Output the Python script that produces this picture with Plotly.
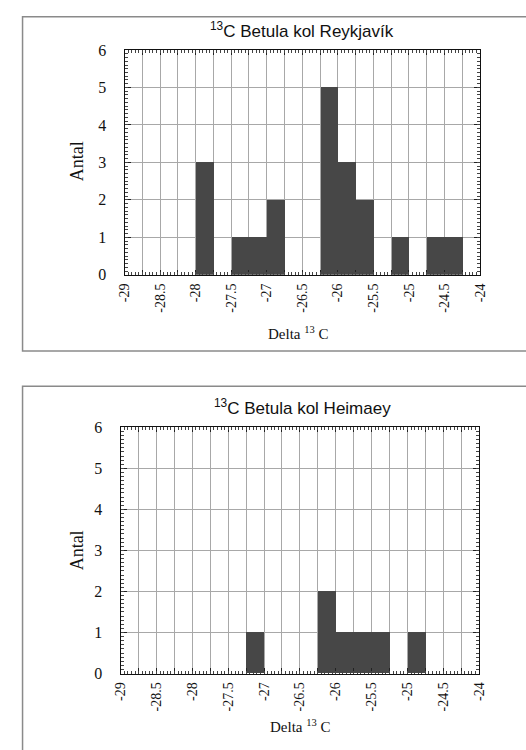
import plotly.graph_objects as go

W, H = 526, 750

# Histogram bins (left edge of each 0.25-wide bin) and counts
bin_width = 0.25
reyk_bin_start = [-28.0, -27.5, -27.25, -27.0, -26.25, -26.0, -25.75, -25.25, -24.75, -24.5]
reyk_counts = [3, 1, 1, 2, 5, 3, 2, 1, 1, 1]
heim_bin_start = [-27.25, -26.25, -26.0, -25.75, -25.5, -25.0]
heim_counts = [1, 2, 1, 1, 1, 1]

x_tick_labels = ["-29", "-28.5", "-28", "-27.5", "-27", "-26.5", "-26",
                 "-25.5", "-25", "-24.5", "-24"]
y_tick_labels = ["0", "1", "2", "3", "4", "5", "6"]

titles = ["<sup>13</sup>C Betula kol Reykjavík", "<sup>13</sup>C Betula kol Heimaey"]

BAR = "#474747"
GRID = "#a8a8a8"
SERIF = "Liberation Serif, Times New Roman, serif"
SANS = "Liberation Sans, Arial, Helvetica, sans-serif"


def px_x(p):
    return p / W


def px_y(p):
    return 1 - p / H


x_vals = [float(t) for t in x_tick_labels]
x_min, x_max = x_vals[0], x_vals[-1]
y_max = len(y_tick_labels) - 1

fig = go.Figure()

panels = [
    dict(starts=reyk_bin_start, counts=reyk_counts, dom_x=(121, 487), dom_y=(43, 273)),
    dict(starts=heim_bin_start, counts=heim_counts, dom_x=(117, 486), dom_y=(429, 681)),
]

for i, p in enumerate(panels):
    n = 2 * i + 1           # main axes: 1 and 3, fine-tick overlays: 2 and 4
    main = "" if n == 1 else str(n)
    over = str(n + 1)
    centers = [s + bin_width / 2 for s in p["starts"]]
    fig.add_trace(go.Bar(
        x=centers, y=p["counts"], width=bin_width,
        marker=dict(color=BAR, line=dict(width=0)),
        xaxis="x" + main, yaxis="y" + main, showlegend=False,
    ))
    # invisible trace so the overlay axes are laid out
    fig.add_trace(go.Scatter(
        x=centers, y=p["counts"], mode="markers", marker=dict(opacity=0),
        xaxis="x" + over, yaxis="y" + over, showlegend=False, hoverinfo="skip",
    ))
    dom_x = [px_x(p["dom_x"][0]), px_x(p["dom_x"][1])]
    dom_y = [px_y(p["dom_y"][1]), px_y(p["dom_y"][0])]
    # labelled axes with the grid
    fig.layout["xaxis" + main] = dict(
        domain=dom_x, anchor="y" + main, range=[x_min, x_max],
        tickmode="array", tickvals=x_vals, ticktext=x_tick_labels, tickangle=-90,
        ticks="inside", ticklen=5, tickcolor="#222", tickwidth=1,
        showgrid=True, gridcolor=GRID, gridwidth=1,
        minor=dict(dtick=0.25, ticks="inside", ticklen=5, tickcolor="#222",
                   showgrid=True, gridcolor=GRID, gridwidth=1),
        showline=True, linecolor="#111", linewidth=1.2, mirror="ticks",
        zeroline=False,
        tickfont=dict(family=SERIF, size=14, color="#111"),
        ticklabelstandoff=2,
    )
    fig.layout["yaxis" + main] = dict(
        domain=dom_y, anchor="x" + main, range=[0, y_max],
        tickmode="array", tickvals=list(range(len(y_tick_labels))), ticktext=y_tick_labels,
        ticks="inside", ticklen=6, tickcolor="#222", tickwidth=1,
        showgrid=True, gridcolor=GRID, gridwidth=1,
        showline=True, linecolor="#111", linewidth=1.2, mirror="ticks",
        zeroline=False,
        tickfont=dict(family=SERIF, size=16, color="#111"),
        ticklabelstandoff=14,
    )
    # unlabelled overlay axes carrying the fine inside tick marks
    fig.layout["xaxis" + over] = dict(
        domain=dom_x, anchor="y" + over, overlaying="x" + main, range=[x_min, x_max],
        dtick=0.05, tick0=x_min, ticks="inside", ticklen=3, tickcolor="#444",
        showticklabels=False, showgrid=False, zeroline=False,
        showline=False, mirror="ticks",
    )
    fig.layout["yaxis" + over] = dict(
        domain=dom_y, anchor="x" + over, overlaying="y" + main, range=[0, y_max],
        dtick=0.1, tick0=0, ticks="inside", ticklen=3, tickcolor="#444",
        showticklabels=False, showgrid=False, zeroline=False,
        showline=False, mirror="ticks",
    )

annotations = []
# panel titles
for t, yc in zip(titles, [22, 408]):
    annotations.append(dict(text=t, x=px_x(304), y=px_y(yc), xref="paper", yref="paper",
                            showarrow=False, xanchor="center", yanchor="middle",
                            font=dict(family=SANS, size=17, color="#111")))
# axis titles
for xc, yc in [(73, 157), (72, 555)]:
    annotations.append(dict(text="Antal", x=px_x(xc), y=px_y(yc), xref="paper", yref="paper",
                            showarrow=False, textangle=-90, xanchor="center", yanchor="middle",
                            font=dict(family=SERIF, size=18, color="#111")))
for xc, yc in [(300, 333), (302, 735)]:
    annotations.append(dict(text="Delta <sup>13</sup> C", x=px_x(xc), y=px_y(yc),
                            xref="paper", yref="paper", showarrow=False,
                            xanchor="center", yanchor="middle",
                            font=dict(family=SERIF, size=15, color="#111")))

# outer frames around each panel
shapes = [
    dict(type="rect", xref="paper", yref="paper", x0=px_x(16), x1=px_x(540),
         y0=px_y(351), y1=px_y(9), line=dict(color="#8a8a8a", width=1.5)),
    dict(type="rect", xref="paper", yref="paper", x0=px_x(16), x1=px_x(540),
         y0=px_y(770), y1=px_y(387), line=dict(color="#8a8a8a", width=1.5)),
]

fig.update_layout(
    width=W, height=H, margin=dict(l=0, r=0, t=0, b=0),
    paper_bgcolor="white", plot_bgcolor="white",
    bargap=0, annotations=annotations, shapes=shapes,
)

fig.write_html("out.html")
